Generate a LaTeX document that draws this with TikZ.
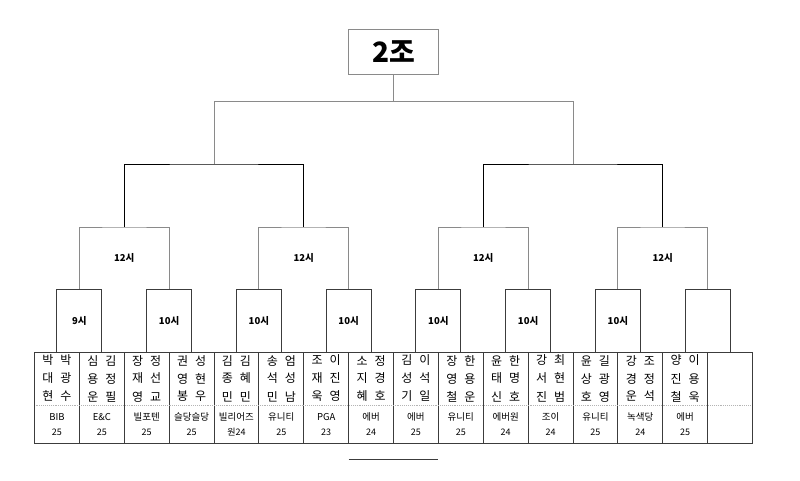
\documentclass[tikz,border=0pt]{standalone}
\usepackage{fontspec}
\setmainfont{Noto Sans CJK KR}
\definecolor{brgray}{HTML}{8A8A8A}
\definecolor{dkgray}{HTML}{3C3C3C}
\definecolor{divgray}{HTML}{B4B4B4}
\begin{document}
\begin{tikzpicture}[x=1pt,y=-1pt,
  br/.style={draw=brgray,line width=0.9pt},
  brdark/.style={draw=black,line width=0.9pt},
  tbl/.style={draw=dkgray,line width=0.9pt},
  divline/.style={draw=divgray,line width=0.9pt,densely dotted},
  sbox/.style={draw=dkgray,line width=0.9pt,minimum width=44.875pt,minimum height=63pt,inner sep=0pt,font=\fontsize{9.5}{11}\selectfont\bfseries},
  lab/.style={inner sep=0pt,font=\fontsize{9.5}{11}\selectfont\bfseries},
  topbox/.style={draw=brgray,line width=0.9pt,minimum width=90pt,minimum height=45pt,inner sep=0pt,font=\fontsize{28}{30}\selectfont\bfseries},
  nm/.style={inner sep=0pt,font=\fontsize{12}{14}\selectfont},
  team/.style={inner sep=0pt,font=\fontsize{9.5}{11}\selectfont},
  num/.style={inner sep=0pt,font=\fontsize{9}{11}\selectfont}
]
\useasboundingbox (0,0) rectangle (800,481);

% top box
\node[topbox] (top) at (393.5,51.5) {2조};

% table grid
\draw[tbl] (34.5,352) rectangle (752.5,443.5);
\foreach \k in {1,...,15}
  \draw[tbl] ({34.5+44.875*\k},352) -- ({34.5+44.875*\k},443.5);
\draw[divline] (35.5,405.7) -- (751.5,405.7);

% cell contents
\foreach \i/\a/\b/\c/\d/\e/\f/\t/\n in {
  1/박/박/대/광/현/수/BIB/25,
  2/심/김/용/정/운/필/E\&C/25,
  3/장/정/재/선/영/교/빌포텐/25,
  4/권/성/영/현/봉/우/슬당슬당/25,
  5/김/김/종/혜/민/민/빌리어즈/원24,
  6/송/엄/석/성/민/남/유니티/25,
  7/조/이/재/진/욱/영/PGA/23,
  8/소/정/지/경/혜/호/에버/24,
  9/김/이/성/석/기/일/에버/25,
  10/장/한/영/용/철/운/유니티/25,
  11/윤/한/태/명/신/호/에버원/24,
  12/강/최/서/현/진/범/조이/24,
  13/윤/길/상/광/호/영/유니티/25,
  14/강/조/경/정/운/석/녹색당/24,
  15/양/이/진/용/철/욱/에버/25}{
  \node[nm] (ra\i) at ({34.5+44.875*(\i-0.5)},360.5) {\a\hspace{7pt}\b};
  \node[nm] (rb\i) at ({34.5+44.875*(\i-0.5)},378.5) {\c\hspace{7pt}\d};
  \node[nm] (rc\i) at ({34.5+44.875*(\i-0.5)},396.5) {\e\hspace{7pt}\f};
  \node[team] (tm\i) at ({34.5+44.875*(\i-0.5)},417) {\t};
  \node[num] (nu\i) at ({34.5+44.875*(\i-0.5)},432) {\n};
}

% first-round boxes
\foreach \j/\lab in {1/9시,2/10시,3/10시,4/10시,5/10시,6/10시,7/10시,8/{}}
  \node[sbox] (s\j) at ({34.5+44.875*(2*\j-1)},320.5) {\lab};

% 12시 brackets
\foreach \i/\p/\q in {1/1/2,2/3/4,3/5/6,4/7/8}{
  \coordinate (t\i) at ({34.5+44.875*(4*\i-2)},227);
  \node[lab] (tl\i) at ({34.5+44.875*(4*\i-2)},258) {12시};
  \draw[br] (s\p.north) |- (t\i) -| (s\q.north);
}

% semifinal brackets
\coordinate (u1) at ({34.5+44.875*4},164);
\coordinate (u2) at ({34.5+44.875*12},164);
\draw[brdark] (t1) |- (u1) -| (t2);
\draw[brdark] (t3) |- (u2) -| (t4);

% final bracket
\coordinate (v) at ({34.5+44.875*8},101.7);
\draw[br] (u1) |- (v) -| (u2);
\draw[br] (v) -- (top.south);

% short line below table
\coordinate (e1) at ({34.5+44.875*7},459);
\coordinate (e2) at ({34.5+44.875*9},459);
\draw[tbl] (e1) -- (e2);
\end{tikzpicture}
\end{document}
